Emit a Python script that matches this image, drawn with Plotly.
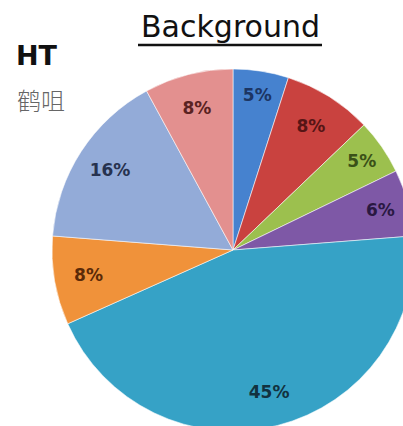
import plotly.graph_objects as go

# Share of each category, clockwise from 12 o'clock
categories = ["A", "B", "C", "D", "E", "F", "G", "H"]
shares = [5, 8, 5, 6, 45, 8, 16, 8]
slice_colors = ["#4682CF", "#C9423F", "#9CC04E", "#7E58A6",
                "#36A2C6", "#F0923A", "#93ABD8", "#E3908F"]
label_colors = ["#1C3563", "#561515", "#3A5118", "#2A1842",
                "#123240", "#5A2A08", "#27324F", "#5A2222"]

W, H = 414, 432
ML, MT = 52, 68
plot_w, plot_h = W - ML, H - MT


def px(x):
    return (x - ML) / plot_w


def py(y):
    return (H - y) / plot_h


fig = go.Figure()

# Filled wedges
fig.add_trace(go.Pie(
    labels=categories, values=shares, sort=False, direction="clockwise",
    rotation=0, textinfo="none", hoverinfo="skip", showlegend=False,
    marker=dict(colors=slice_colors,
                line=dict(color="rgba(255,255,255,0.55)", width=1)),
))

# Percentage labels set near the rim of each wedge
fig.add_trace(go.Pie(
    labels=categories, values=shares, sort=False, direction="clockwise",
    rotation=0, hole=0.62, hoverinfo="skip", showlegend=False,
    texttemplate="%{value}%", textposition="inside",
    insidetextorientation="horizontal",
    textfont=dict(family="DejaVu Sans", size=17, color=label_colors,
                  weight="bold"),
    marker=dict(colors=["rgba(0,0,0,0)"] * len(shares),
                line=dict(width=0)),
))

fig.add_annotation(
    text="Background", xref="paper", yref="paper",
    x=px(230), y=py(27), xanchor="center", yanchor="middle",
    showarrow=False, font=dict(family="DejaVu Sans", size=30, color="#111111"),
)
fig.add_shape(
    type="line", xref="paper", yref="paper",
    x0=px(138), x1=px(322), y0=py(45), y1=py(45),
    line=dict(color="#111111", width=2.5),
)
fig.add_annotation(
    text="<b>HT</b>", xref="paper", yref="paper",
    x=px(14), y=py(56), xanchor="left", yanchor="middle",
    showarrow=False, font=dict(family="DejaVu Sans", size=27, color="#111111"),
)
fig.add_annotation(
    text="鹤咀", xref="paper", yref="paper",
    x=px(15), y=py(99), xanchor="left", yanchor="middle",
    showarrow=False,
    font=dict(family="Noto Sans CJK SC", size=24, color="#666666",
              weight=300),
)

fig.update_layout(
    width=W, height=H,
    margin=dict(l=ML, r=0, t=MT, b=0, autoexpand=False),
    paper_bgcolor="white", plot_bgcolor="white",
)

fig.write_html(
    "out.html",
    post_script=(
        "document.body.style.margin='0';"
        "document.body.style.overflow='hidden';"
        "document.documentElement.style.overflow='hidden';"
    ),
)
